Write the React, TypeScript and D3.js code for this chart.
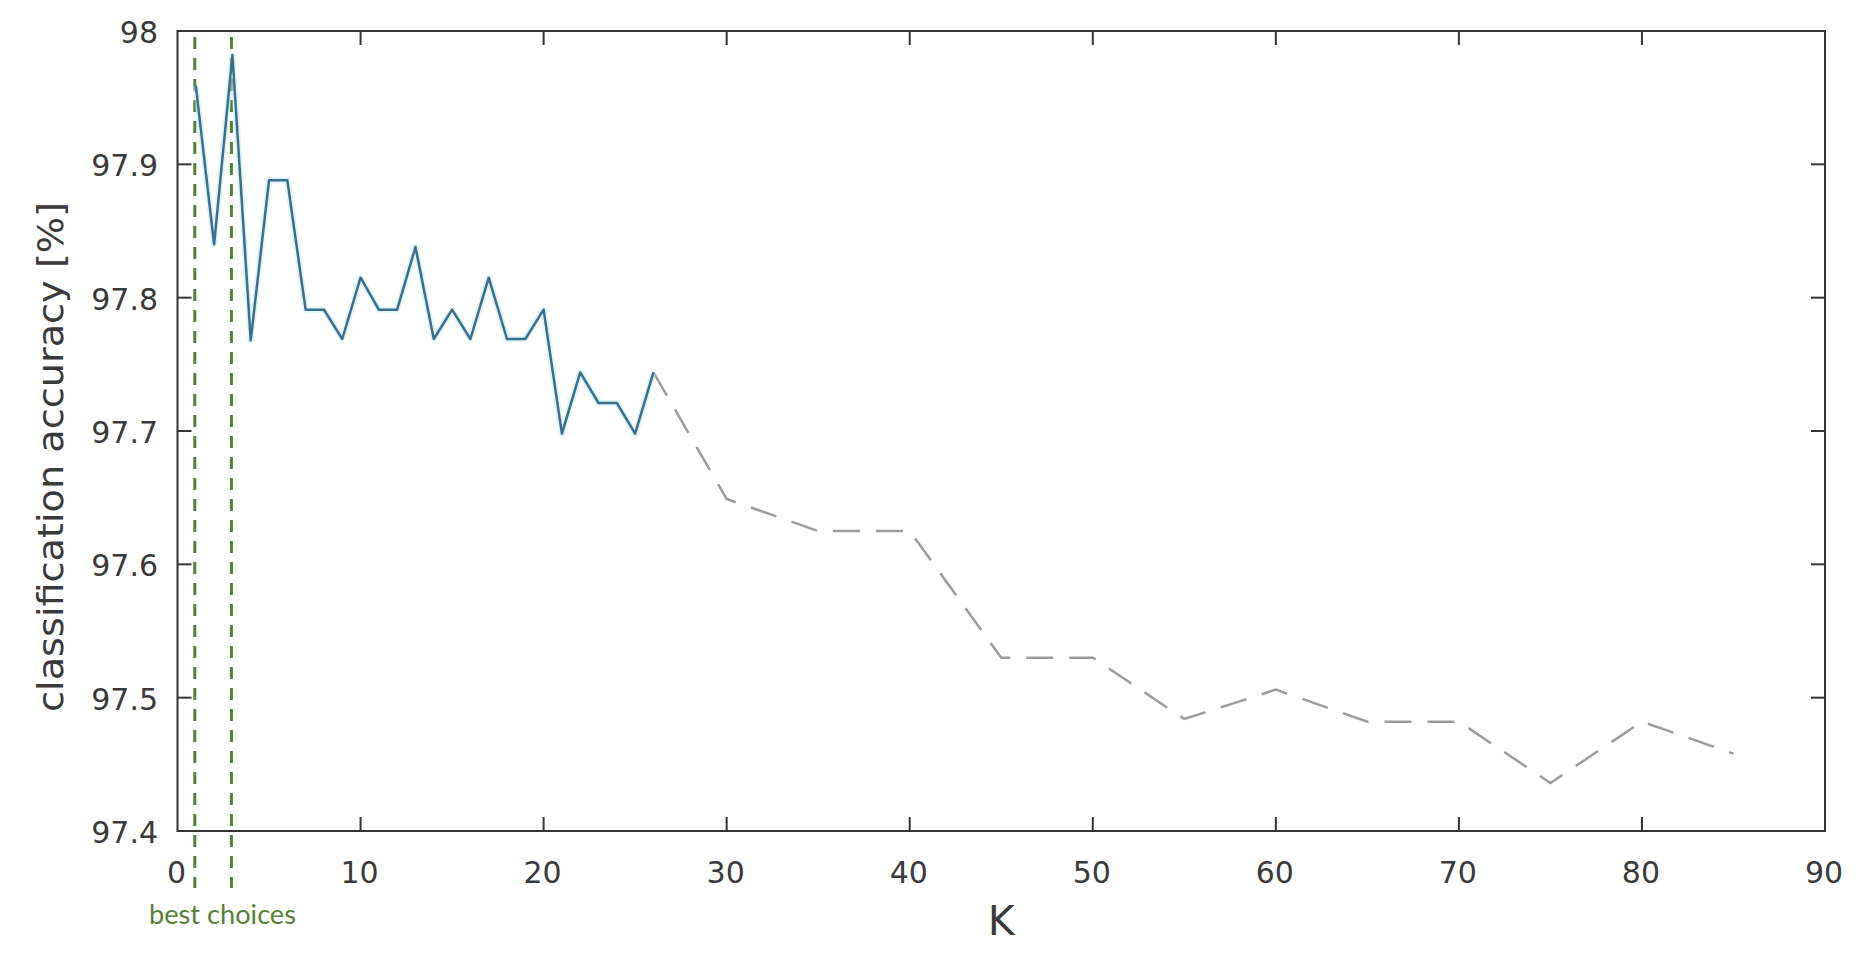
import { useEffect, useRef } from 'react';
import * as d3 from 'd3';

// K = 1..26, solid blue part
const kSolid = [1, 2, 3, 4, 5, 6, 7, 8, 9, 10, 11, 12, 13, 14, 15, 16, 17, 18, 19, 20, 21, 22, 23, 24, 25, 26];
const accSolid = [
  97.959, 97.840, 97.982, 97.768, 97.888, 97.888, 97.791, 97.791, 97.769, 97.815,
  97.791, 97.791, 97.838, 97.769, 97.791, 97.769, 97.815, 97.769, 97.769, 97.791,
  97.698, 97.744, 97.721, 97.721, 97.698, 97.744,
];

// coarser steps, grey dashed part
const kDashed = [26, 30, 35, 40, 45, 50, 55, 60, 65, 70, 75, 80, 85];
const accDashed = [97.744, 97.649, 97.625, 97.625, 97.530, 97.530, 97.484, 97.506, 97.482, 97.482, 97.436, 97.482, 97.458];

const xTicks = [0, 10, 20, 30, 40, 50, 60, 70, 80, 90];
const yTicks = [97.4, 97.5, 97.6, 97.7, 97.8, 97.9, 98];

// the two K values marked as best
const bestK = [1, 3];
const bestLabel = 'best choices';

const W = 1876;
const H = 956;

export default function App() {
  const svgRef = useRef<SVGSVGElement | null>(null);

  useEffect(() => {
    const svg = d3.select(svgRef.current);
    svg.selectAll('*').remove();

    const left = 177.5, right = 1825, top = 31, bottom = 831;

    const x = d3.scaleLinear().domain([0, 90]).range([left, right]);
    const y = d3.scaleLinear().domain([97.4, 98]).range([bottom, top]);

    const axisColor = '#333333';
    const labelColor = '#3a3a3a';
    const tickLen = 14;

    // box
    svg.append('rect')
      .attr('x', left)
      .attr('y', top)
      .attr('width', right - left)
      .attr('height', bottom - top)
      .attr('fill', 'none')
      .attr('stroke', axisColor)
      .attr('stroke-width', 2);

    // x ticks, inward on bottom and top
    xTicks.forEach(t => {
      if (t === 0 || t === 90) return;
      svg.append('line')
        .attr('x1', x(t)).attr('x2', x(t))
        .attr('y1', bottom).attr('y2', bottom - tickLen)
        .attr('stroke', axisColor).attr('stroke-width', 2);
      svg.append('line')
        .attr('x1', x(t)).attr('x2', x(t))
        .attr('y1', top).attr('y2', top + tickLen)
        .attr('stroke', axisColor).attr('stroke-width', 2);
    });

    // y ticks, inward on left and right
    yTicks.forEach(t => {
      if (t === 97.4 || t === 98) return;
      svg.append('line')
        .attr('x1', left).attr('x2', left + tickLen)
        .attr('y1', y(t)).attr('y2', y(t))
        .attr('stroke', axisColor).attr('stroke-width', 2);
      svg.append('line')
        .attr('x1', right).attr('x2', right - tickLen)
        .attr('y1', y(t)).attr('y2', y(t))
        .attr('stroke', axisColor).attr('stroke-width', 2);
    });

    // tick labels
    svg.selectAll('text.xtick')
      .data(xTicks)
      .join('text')
      .attr('class', 'xtick')
      .attr('x', d => x(d) - 1)
      .attr('y', 883)
      .attr('text-anchor', 'middle')
      .attr('fill', labelColor)
      .style('font-family', 'DejaVu Sans')
      .style('font-size', '30px')
      .text(d => String(d));

    svg.selectAll('text.ytick')
      .data(yTicks)
      .join('text')
      .attr('class', 'ytick')
      .attr('x', 158)
      .attr('y', d => y(d) + 12)
      .attr('text-anchor', 'end')
      .attr('fill', labelColor)
      .style('font-family', 'DejaVu Sans')
      .style('font-size', '30px')
      .text(d => String(+d.toFixed(1)));

    // axis titles
    svg.append('text')
      .attr('x', x(45))
      .attr('y', 935)
      .attr('text-anchor', 'middle')
      .attr('fill', labelColor)
      .style('font-family', 'DejaVu Sans')
      .style('font-size', '41px')
      .text('K');

    svg.append('text')
      .attr('transform', 'translate(63, 457) rotate(-90)')
      .attr('text-anchor', 'middle')
      .attr('fill', labelColor)
      .attr('textLength', 510)
      .attr('lengthAdjust', 'spacingAndGlyphs')
      .style('font-family', 'DejaVu Sans')
      .style('font-size', '36px')
      .text('classification accuracy [%]');

    // best choice markers
    const green = '#548235';
    bestK.forEach(k => {
      svg.append('line')
        .attr('x1', x(k) - 1).attr('x2', x(k) - 1)
        .attr('y1', 37).attr('y2', 888)
        .attr('stroke', green)
        .attr('stroke-width', 3)
        .attr('stroke-dasharray', '12,9');
    });

    svg.append('text')
      .attr('x', 149)
      .attr('y', 924)
      .attr('fill', green)
      .attr('textLength', 147)
      .attr('lengthAdjust', 'spacingAndGlyphs')
      .style('font-family', 'Lato')
      .style('font-size', '27px')
      .text(bestLabel);

    // lines
    const line = d3.line<[number, number]>()
      .x(d => x(d[0]))
      .y(d => y(d[1]));

    const dashedData = kDashed.map((k, i) => [k, accDashed[i]] as [number, number]);
    svg.append('path')
      .datum(dashedData)
      .attr('d', line)
      .attr('fill', 'none')
      .attr('stroke', '#9c9c9c')
      .attr('stroke-width', 2.5)
      .attr('stroke-dasharray', '27,16');

    const solidData = kSolid.map((k, i) => [k, accSolid[i]] as [number, number]);
    svg.append('path')
      .datum(solidData)
      .attr('d', line)
      .attr('fill', 'none')
      .attr('stroke', '#bfe9f5')
      .attr('stroke-width', 6)
      .attr('stroke-opacity', 0.5)
      .attr('stroke-linejoin', 'round');

    svg.append('path')
      .datum(solidData)
      .attr('d', line)
      .attr('fill', 'none')
      .attr('stroke', '#3a6f8c')
      .attr('stroke-width', 2.5)
      .attr('stroke-linejoin', 'round');
  }, []);

  return (
    <svg
      ref={svgRef}
      width={W}
      height={H}
      style={{ position: 'absolute', left: 0, top: 0, background: '#ffffff', display: 'block' }}
    />
  );
}
